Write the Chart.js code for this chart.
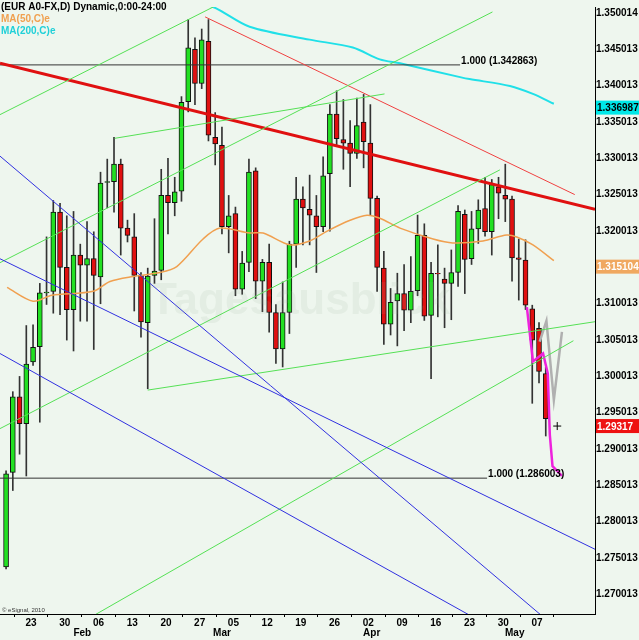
<!DOCTYPE html>
<html><head><meta charset="utf-8">
<script src="https://cdn.jsdelivr.net/npm/chart.js@4"></script>
<style>html,body{margin:0;padding:0;background:#eef6ee}#w{width:639px;height:640px}</style>
</head><body><div id="w"><canvas id="c"></canvas></div>
<script>
const opens=[1.2738,1.2868,1.2972,1.2935,1.3020,1.3041,1.3115,1.3117,1.3226,1.3150,1.3092,1.3167,1.3153,1.3162,1.3137,1.3267,1.3268,1.3292,1.3204,1.3192,1.3139,1.3074,1.3139,
1.3146,1.3249,1.3239,1.3255,1.3378,1.3450,1.3403,1.3461,1.3329,1.3318,1.3206,1.3224,1.3120,1.3157,1.3283,1.3131,1.3157,1.3088,1.3038,1.3088,1.3182,1.3244,
1.3230,1.3221,1.3206,1.3279,1.3361,1.3326,1.3321,1.3307,1.3350,1.3321,1.3245,1.3149,1.3072,1.3104,1.3114,1.3091,1.3118,1.3194,1.3084,1.3142,1.3134,1.3128,
1.3143,1.3223,1.3162,1.3203,1.3231,1.3199,1.3261,1.3249,1.3244,1.3163,1.3160,1.3093,1.3066,1.3004];
const closes=[1.2866,1.2972,1.2935,1.3017,1.3040,1.3115,1.3116,1.3226,1.3150,1.3092,1.3167,1.3153,1.3162,1.3139,1.3266,1.3268,1.3292,1.3204,1.3194,1.3139,1.3075,1.3138,1.3145,
1.3249,1.3239,1.3254,1.3377,1.3452,1.3403,1.3463,1.3332,1.3320,1.3206,1.3221,1.3120,1.3156,1.3281,1.3131,1.3157,1.3088,1.3038,1.3088,1.3182,1.3244,1.3232,
1.3222,1.3206,1.3276,1.3361,1.3327,1.3321,1.3307,1.3345,1.3323,1.3245,1.3150,1.3072,1.3102,1.3114,1.3091,1.3117,1.3194,1.3083,1.3142,1.3141,1.3128,1.3143,
1.3227,1.3161,1.3203,1.3229,1.3199,1.3264,1.3252,1.3244,1.3163,1.3161,1.3098,1.3050,1.3007,1.2942];
const highs=[1.2870,1.2979,1.3000,1.3070,1.3071,1.3128,1.3192,1.3242,1.3238,1.3221,1.3227,1.3182,1.3213,1.3199,1.3281,1.3299,1.3329,1.3299,1.3215,1.3224,1.3143,1.3149,1.3217,
1.3285,1.3300,1.3274,1.3385,1.3491,1.3466,1.3478,1.3491,1.3363,1.3343,1.3249,1.3233,1.3172,1.3299,1.3287,1.3161,1.3182,1.3099,1.3130,1.3186,1.3274,1.3261,
1.3277,1.3249,1.3302,1.3374,1.3393,1.3381,1.3352,1.3383,1.3388,1.3374,1.3248,1.3172,1.3121,1.3142,1.3154,1.3165,1.3222,1.3210,1.3157,1.3181,1.3149,1.3174,
1.3235,1.3229,1.3227,1.3243,1.3274,1.3271,1.3274,1.3292,1.3248,1.3189,1.3188,1.3098,1.3074,1.3013];
const lows=[1.2735,1.2843,1.2893,1.2863,1.3015,1.2937,1.3099,1.3087,1.3085,1.3050,1.3035,1.3076,1.3076,1.3037,1.3100,1.3232,1.3226,1.3167,1.3185,1.3090,1.3054,1.2983,1.3128,
1.3133,1.3196,1.3221,1.3241,1.3364,1.3374,1.3396,1.3324,1.3291,1.3196,1.3170,1.3111,1.3113,1.3144,1.3107,1.3089,1.3061,1.3018,1.3013,1.3059,1.3150,1.3181,
1.3181,1.3143,1.3199,1.3200,1.3318,1.3285,1.3261,1.3300,1.3287,1.3222,1.3117,1.3044,1.3057,1.3042,1.3063,1.3074,1.3111,1.3077,1.2997,1.3082,1.3067,1.3078,
1.3124,1.3114,1.3154,1.3183,1.3193,1.3167,1.3217,1.3213,1.3131,1.3105,1.3092,1.2963,1.2991,1.2918];
const ma50X=[0.15,4.0,6.8,12.9,15.4,18.8,22.8,25.3,29.2,31.7,36.1,38.1,42.1,45.0,47.6,51.0,53.5,55.4,58.4,63.3,66.2,70.7,74.2,75.7,78.1,81.2];
const ma50Y=[1.31225,1.31035,1.31117,1.31171,1.31307,1.31375,1.31429,1.31511,1.31891,1.32041,1.31973,1.31973,1.31810,1.31864,1.32000,1.32149,1.32217,1.32176,1.32041,1.31891,1.31837,1.31864,1.31945,1.31918,1.31810,1.31592];
const ma200X=[27.3,30.7,36.1,45.0,51.4,55.4,58.4,67.3,68.7,74.7,78.1,81.2];
const ma200Y=[1.35151,1.35083,1.34811,1.34634,1.34526,1.34363,1.34308,1.34118,1.34091,1.33996,1.33887,1.33752];
const projX=[77.2,78.1,79.6,80.3,80.6,81.0,82.4];
const projY=[1.30953,1.30206,1.30315,1.30043,1.29201,1.28766,1.28631];
const altX=[79.1,80.1,81.2,82.4];
const altY=[1.30478,1.30763,1.29676,1.30614];
const redThick=[-0.9,1.34308,87.3,1.32298];
const redThin=[29.5,1.34947,84.3,1.32502];
const greenLines=[[16.1,1.33276,56.1,1.33887],[21.0,1.29812,93.8,1.30845],[-0.9,1.31565,72.1,1.35015],[-0.9,1.33602,30.7,1.35083],[-0.9,1.29282,73.2,1.32842],[6.96,1.26389,84.1,1.30491]];
const blueLines=[[-0.9,1.33031,81.2,1.26566],[-0.9,1.31619,93.8,1.27327],[-0.9,1.30315,68.7,1.26715]];
const fibLevels=[1.342863,1.286003];
const fibEnds=[67.3,71.3];
const fibLabels=['1.000 (1.342863)','1.000 (1.286003)'];
const dayLabels=['23','30','06','13','20','27','05','12','19','26','02','09','16','23','30','07'];
const dayPos=[3.7,8.7,13.7,18.7,23.7,28.7,33.7,38.7,43.7,48.7,53.7,58.7,63.7,68.7,73.7,78.7];
const monthLabels=['Feb','Mar','Apr','May'];
const monthPos=[11.3,32.0,54.2,75.4];
const priceTicks=[1.270013,1.275013,1.280013,1.285013,1.290013,1.295013,1.300013,1.305013,1.310013,1.315013,1.320013,1.325013,1.330013,1.335013,1.340013,1.345013,1.350014];
const markers=[[1.336987,'#00e8e8','#000','1.336987'],[1.315104,'#f0a860','#fff','1.315104'],[1.29317,'#ee1111','#fff','1.29317']];

const F='"Liberation Sans"';
const idx=opens.map((_,i)=>i);
const seg=(a,col,w)=>({type:'line',data:[{x:a[0],y:a[1]},{x:a[2],y:a[3]}],borderColor:col,borderWidth:w,pointRadius:0,order:0});
const datasets=[
 {type:'bar',data:idx.map(i=>({x:i,y:[lows[i],highs[i]]})),backgroundColor:'#333',borderWidth:0,barThickness:1,grouped:false,order:3},
 {type:'bar',data:idx.map(i=>({x:i,y:[opens[i],Math.abs(closes[i]-opens[i])<0.00005?opens[i]+0.00008:closes[i]]})),
  backgroundColor:idx.map(i=>closes[i]>=opens[i]?'#22e022':'#e01010'),borderColor:'#111',borderWidth:1,borderSkipped:false,barThickness:5,grouped:false,order:2},
 ...blueLines.map(l=>seg(l,'#3030e0',1)),
 ...greenLines.map(l=>seg(l,'#55e055',1)),
 seg(redThin,'#f04040',1),
 seg(redThick,'#e01010',3),
 ...fibLevels.map((v,i)=>seg([-0.9,v,fibEnds[i],v],'#333',1)),
 {type:'line',data:ma50X.map((x,i)=>({x,y:ma50Y[i]})),borderColor:'#f0a050',borderWidth:1.5,pointRadius:0,tension:0.3,order:0},
 {type:'line',data:ma200X.map((x,i)=>({x,y:ma200Y[i]})),borderColor:'#20e0e8',borderWidth:2,pointRadius:0,tension:0.3,order:0},
 {type:'line',data:altX.map((x,i)=>({x,y:altY[i]})),borderColor:'#b0b0b0',borderWidth:2.5,pointRadius:0,order:0},
 {type:'line',data:projX.map((x,i)=>({x,y:projY[i]})),borderColor:'#ee22dd',borderWidth:2.5,pointRadius:0,order:0},
];
const deco={id:'deco',afterDraw(c){
 const g=c.ctx,ys=c.scales.y,xs=c.scales.x,a=c.chartArea;
 g.save();
 g.font='bold 10px '+F;g.textBaseline='middle';
 fibLevels.forEach((v,i)=>{g.fillStyle='#000';g.textAlign='left';g.fillText(fibLabels[i],xs.getPixelForValue(fibEnds[i])+1,ys.getPixelForValue(v)-4);});
 markers.forEach(m=>{const y=ys.getPixelForValue(m[0]);g.fillStyle=m[1];g.fillRect(a.right+1,y-7,43,14);g.fillStyle=m[2];g.textAlign='left';g.fillText(m[3],a.right+2,y+1);});
 g.fillStyle='#000';g.textAlign='left';g.textBaseline='top';
 g.fillText('(EUR A0-FX,D) Dynamic,0:00-24:00',1,2);
 g.fillStyle='#f0a050';g.fillText('MA(50,C)e',1,14);
 g.fillStyle='#20d0d8';g.fillText('MA(200,C)e',1,26);
 g.fillStyle='#333';g.font='6px '+F;g.fillText('© eSignal, 2010',2,607);
 g.fillStyle='rgba(150,170,150,0.12)';g.font='bold 44px '+F;g.fillText('Tagesausblick',150,280);
 g.strokeStyle='#000';g.lineWidth=1;const cx=xs.getPixelForValue(81.7),cy=ys.getPixelForValue(1.29317);
 g.beginPath();g.moveTo(cx-4,cy);g.lineTo(cx+4,cy);g.moveTo(cx,cy-4);g.lineTo(cx,cy+4);g.stroke();
 g.restore();
}};
new Chart(document.getElementById('c'),{
 data:{datasets},
 plugins:[deco],
 options:{responsive:true,maintainAspectRatio:false,animation:false,
  layout:{padding:0},
  plugins:{legend:{display:false},tooltip:{enabled:false}},
  scales:{
   x:{type:'linear',min:-0.9,max:87.3,offset:false,
     afterBuildTicks:s=>{s.ticks=dayPos.map(v=>({value:v}));},
     afterFit:s=>{s.height=13;},
     ticks:{autoSkip:false,maxRotation:0,padding:0,font:{size:10,weight:'bold',family:F},color:'#000',callback:(v,i)=>dayLabels[i]},
     grid:{drawOnChartArea:false,tickLength:3,color:'#000'},border:{color:'#000'}},
   x2:{type:'linear',position:'bottom',min:-0.9,max:87.3,
     afterBuildTicks:s=>{s.ticks=monthPos.map(v=>({value:v}));},
     afterFit:s=>{s.height=13;},
     ticks:{autoSkip:false,maxRotation:0,padding:0,font:{size:10,weight:'bold',family:F},color:'#000',callback:(v,i)=>monthLabels[i]},
     grid:{display:false,drawTicks:false,tickLength:0},border:{display:false}},
   y:{position:'right',min:1.26731,max:1.35083,
     afterBuildTicks:s=>{s.ticks=priceTicks.map(v=>({value:v}));},
     afterFit:s=>{s.width=44;},
     ticks:{autoSkip:false,padding:1,font:{size:10,weight:'bold',family:F},color:'#000',callback:v=>v.toFixed(6)},
     grid:{drawOnChartArea:false,tickLength:0,color:'#000'},border:{color:'#000'}}
  }}
});
</script></body></html>
